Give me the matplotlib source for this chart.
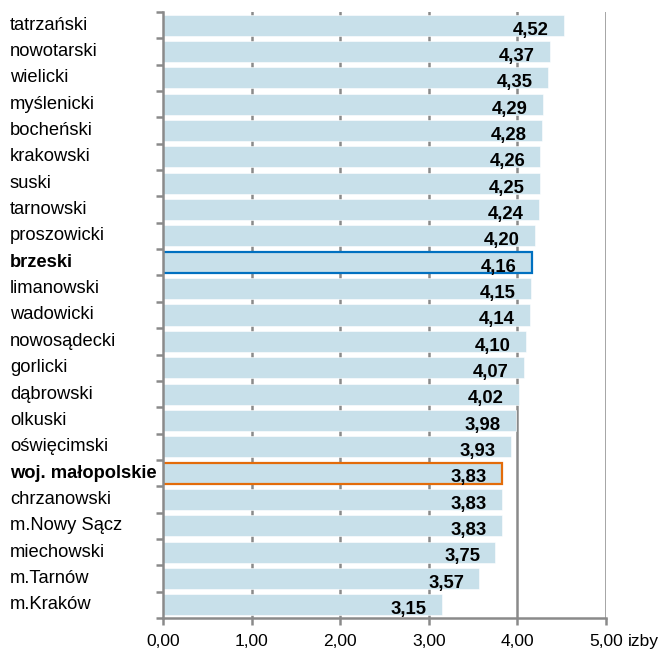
import matplotlib
matplotlib.use("Agg")
import matplotlib.pyplot as plt
import matplotlib.transforms as mtransforms

categories = ["tatrzański", "nowotarski", "wielicki", "myślenicki", "bocheński",
              "krakowski", "suski", "tarnowski", "proszowicki", "brzeski",
              "limanowski", "wadowicki", "nowosądecki", "gorlicki", "dąbrowski",
              "olkuski", "oświęcimski", "woj. małopolskie", "chrzanowski",
              "m.Nowy Sącz", "miechowski", "m.Tarnów", "m.Kraków"]
values = [4.52, 4.37, 4.35, 4.29, 4.28, 4.26, 4.25, 4.24, 4.20, 4.16,
          4.15, 4.14, 4.10, 4.07, 4.02, 3.98, 3.93, 3.83, 3.83, 3.83,
          3.75, 3.57, 3.15]
xticks = [0, 1, 2, 3, 4, 5]
xticklabels = ["0,00", "1,00", "2,00", "3,00", "4,00", "5,00"]
unit_label = "izby"
highlight = {"brzeski": "#0070C0", "woj. małopolskie": "#E36C0A"}

plt.rcParams['font.family'] = ['Liberation Sans', 'DejaVu Sans']

W, H = 663, 653
fig = plt.figure(figsize=(W / 100, H / 100), dpi=100)
left, right, top, bottom = 163.3, 606.0, 12.0, 618.0
ax = fig.add_axes([left / W, 1 - bottom / H, (right - left) / W, (bottom - top) / H])

n = len(categories)
gray = "#8A8A8A"
bar_color = "#C8E0EA"

for x in xticks[1:]:
    ax.axvline(x, color=gray, lw=1.8, zorder=0)

for i, (cat, v) in enumerate(zip(categories, values)):
    ec = highlight.get(cat)
    ax.barh(i, v, height=0.8, color=bar_color,
            edgecolor=ec if ec else "white",
            linewidth=1.6 if ec else 0.4, zorder=2)
    ax.annotate(f"{v:.2f}".replace(".", ","), xy=(v, i), xytext=(-11, -3.5),
                textcoords="offset points", ha="right", va="center",
                fontsize=13.3, fontweight="bold", color="black", zorder=3)

ax.set_xlim(0, 5)
ax.set_ylim(n - 0.5, -0.5)

ax.spines['top'].set_visible(False)
ax.spines['right'].set_visible(False)
for s in ['left', 'bottom']:
    ax.spines[s].set_color(gray)
    ax.spines[s].set_linewidth(1.8)
    ax.spines[s].set_zorder(4)

ax.set_xticks(xticks)
ax.set_xticklabels(xticklabels, fontsize=12.5)
ax.tick_params(axis='x', length=5, width=1.8, color=gray, pad=6.5)

ax.set_yticks([i + 0.5 for i in range(-1, n)])
ax.set_yticklabels([])
ax.tick_params(axis='y', length=5, width=1.8, color=gray)

trans = mtransforms.blended_transform_factory(fig.transFigure, ax.transData)
for i, cat in enumerate(categories):
    ax.text(10 / W, i, cat, transform=trans, ha="left", va="center",
            fontsize=13.2, fontweight="bold" if cat in highlight else "normal")

fig.canvas.draw()
lab = ax.get_xticklabels()[-1]
bb = lab.get_window_extent()
yc = (bb.y0 + bb.y1) / 2
fig.text((bb.x1 + 5) / W, yc / H, unit_label, ha="left", va="center", fontsize=12.5)

fig.savefig("out.png", dpi=100)
